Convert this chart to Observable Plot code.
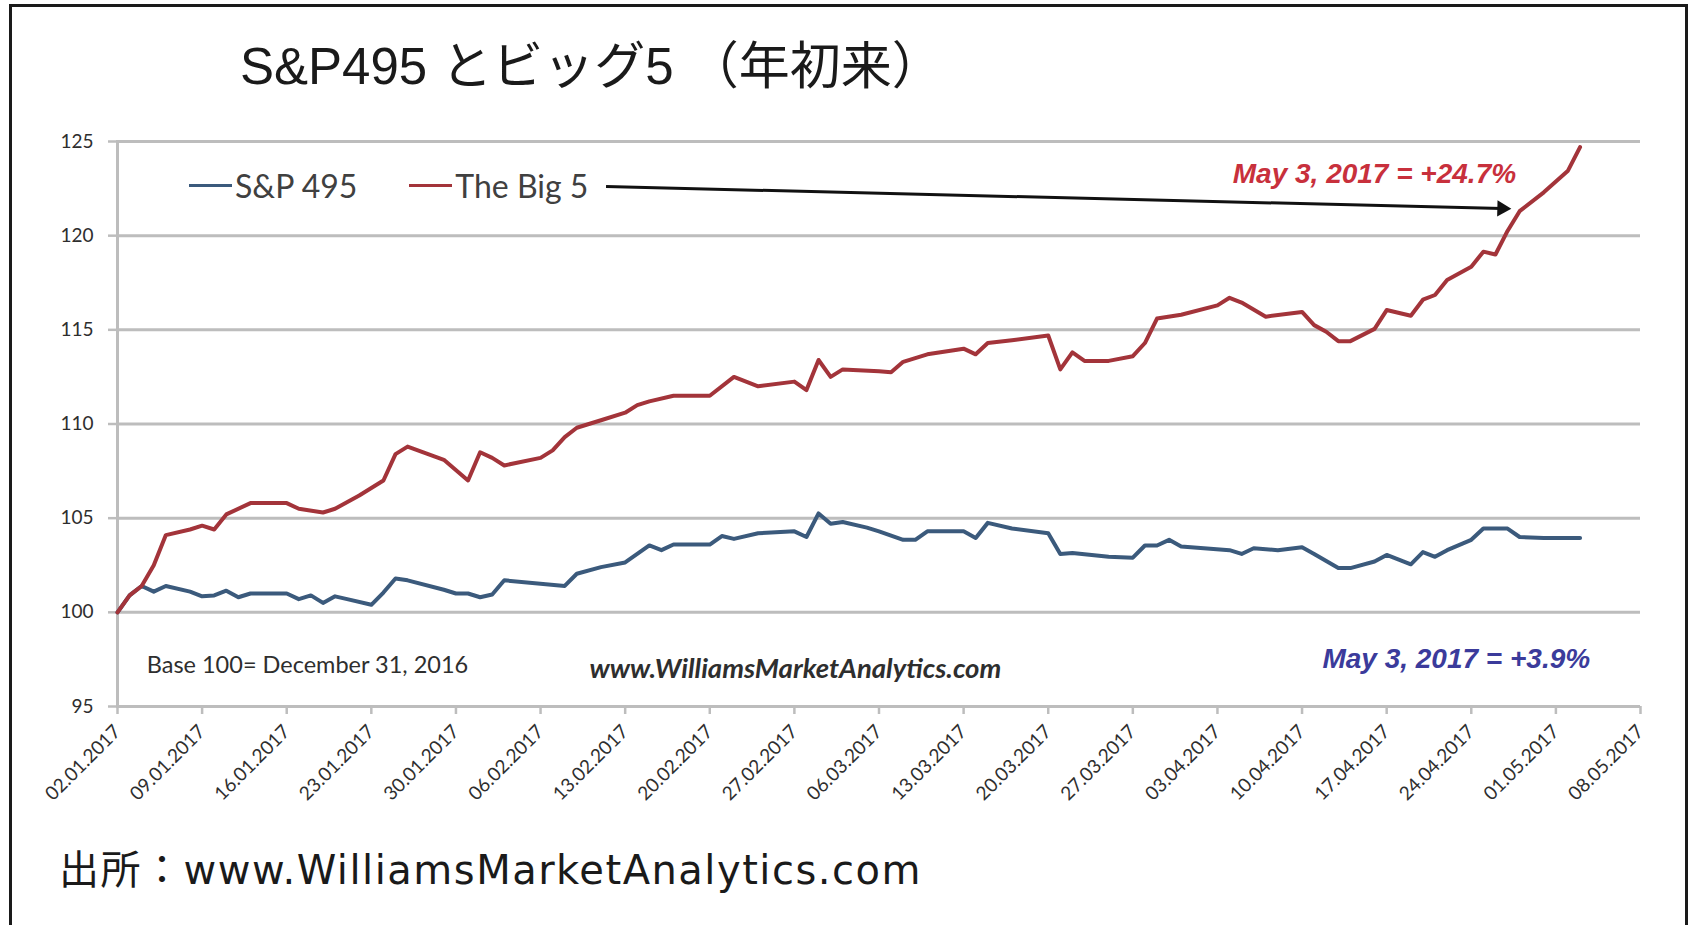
<!DOCTYPE html>
<html><head><meta charset="utf-8">
<script src="https://cdn.jsdelivr.net/npm/d3@7"></script>
<script src="https://cdn.jsdelivr.net/npm/@observablehq/plot@0.6"></script>
<style>
html,body{margin:0;padding:0;background:#fff;}
#page{position:relative;width:1694px;height:925px;overflow:hidden;background:#fff;}
#frame{position:absolute;left:9px;top:4px;width:1679px;height:1000px;border:3px solid #1a1a1a;box-sizing:border-box;}
#title{position:absolute;left:240px;top:41px;font-family:"Liberation Sans","Noto Sans CJK JP",sans-serif;font-size:51px;line-height:51px;color:#1a1a1a;white-space:pre;}
#footer{position:absolute;left:59px;top:850px;font-family:"DejaVu Sans","Noto Sans CJK JP",sans-serif;font-size:40px;line-height:40px;letter-spacing:1.5px;color:#1a1a1a;white-space:nowrap;}
#chart{position:absolute;left:53px;top:100px;}
#legend{position:absolute;left:189px;top:170px;display:flex;align-items:center;font-family:Lato,sans-serif;font-size:32px;line-height:31px;color:#404040;white-space:nowrap;}
#legend .item{display:flex;align-items:center;margin-right:52px;}
#legend .sw{display:inline-block;width:43px;height:3px;margin-right:3px;}
</style></head>
<body>
<div id="page">
  <div id="frame"></div>
  <div id="title">S&amp;P495 とビッグ5 （年初来）</div>
  <div id="chart"></div>
  <div id="legend"></div>
  <div id="footer">出所：www.WilliamsMarketAnalytics.com</div>
</div>
<script>
// ---- data ----
const bigDates = ["2017-01-02","2017-01-03","2017-01-04","2017-01-05","2017-01-06","2017-01-08","2017-01-09","2017-01-10","2017-01-11","2017-01-13",
"2017-01-16","2017-01-17","2017-01-19","2017-01-20","2017-01-22","2017-01-23","2017-01-24","2017-01-25","2017-01-26","2017-01-29",
"2017-01-31","2017-02-01","2017-02-02","2017-02-03","2017-02-06","2017-02-07","2017-02-08","2017-02-09","2017-02-11","2017-02-13",
"2017-02-14","2017-02-15","2017-02-17","2017-02-20","2017-02-22","2017-02-24","2017-02-27","2017-02-28","2017-03-01","2017-03-02",
"2017-03-03","2017-03-06","2017-03-07","2017-03-08","2017-03-10","2017-03-13","2017-03-14","2017-03-15","2017-03-17","2017-03-20",
"2017-03-21","2017-03-22","2017-03-23","2017-03-25","2017-03-27","2017-03-28","2017-03-29","2017-03-31","2017-04-03","2017-04-04",
"2017-04-05","2017-04-07","2017-04-10","2017-04-11","2017-04-12","2017-04-13","2017-04-14","2017-04-16","2017-04-17","2017-04-19",
"2017-04-20","2017-04-21","2017-04-22","2017-04-24","2017-04-25","2017-04-26","2017-04-27","2017-04-28","2017-04-30","2017-05-02",
"2017-05-03"];
const bigValues = [100.0,100.9,101.4,102.5,104.1,104.4,104.6,104.4,105.2,105.8,
105.8,105.5,105.3,105.5,106.2,106.6,107.0,108.4,108.8,108.1,
107.0,108.5,108.2,107.8,108.2,108.6,109.3,109.8,110.2,110.6,
111.0,111.2,111.5,111.5,112.5,112.0,112.25,111.8,113.4,112.5,
112.9,112.8,112.75,113.3,113.7,114.0,113.7,114.3,114.45,114.7,
112.9,113.8,113.35,113.35,113.6,114.3,115.6,115.8,116.3,116.7,
116.45,115.7,115.95,115.25,114.9,114.4,114.4,115.05,116.05,115.75,
116.6,116.85,117.65,118.35,119.15,119.0,120.25,121.3,122.3,123.45,
124.7];

const spDates = ["2017-01-02","2017-01-03","2017-01-04","2017-01-05","2017-01-06","2017-01-08","2017-01-09","2017-01-10","2017-01-11","2017-01-12",
"2017-01-13","2017-01-16","2017-01-17","2017-01-18","2017-01-19","2017-01-20","2017-01-21","2017-01-23","2017-01-24","2017-01-25",
"2017-01-26","2017-01-29","2017-01-30","2017-01-31","2017-02-01","2017-02-02","2017-02-03","2017-02-08","2017-02-09","2017-02-11",
"2017-02-13","2017-02-15","2017-02-16","2017-02-17","2017-02-20","2017-02-21","2017-02-22","2017-02-24","2017-02-27","2017-02-28",
"2017-03-01","2017-03-02","2017-03-03","2017-03-05","2017-03-06","2017-03-08","2017-03-09","2017-03-10","2017-03-13","2017-03-14",
"2017-03-15","2017-03-17","2017-03-20","2017-03-21","2017-03-22","2017-03-25","2017-03-27","2017-03-28","2017-03-29","2017-03-30",
"2017-03-31","2017-04-04","2017-04-05","2017-04-06","2017-04-08","2017-04-10","2017-04-11","2017-04-13","2017-04-14","2017-04-16",
"2017-04-17","2017-04-19","2017-04-20","2017-04-21","2017-04-22","2017-04-24","2017-04-25","2017-04-27","2017-04-28","2017-04-30",
"2017-05-03"];
const spValues = [100.0,100.9,101.4,101.1,101.4,101.1,100.85,100.9,101.15,100.8,
101.0,101.0,100.7,100.9,100.5,100.85,100.7,100.4,101.05,101.8,
101.7,101.2,101.0,101.0,100.8,100.95,101.7,101.4,102.05,102.4,
102.65,103.55,103.3,103.6,103.6,104.05,103.9,104.2,104.3,104.0,
105.25,104.7,104.8,104.5,104.3,103.85,103.85,104.3,104.3,103.95,
104.75,104.45,104.2,103.1,103.15,102.95,102.9,103.55,103.55,103.85,
103.5,103.3,103.1,103.4,103.3,103.45,103.1,102.35,102.35,102.7,
103.05,102.55,103.2,102.95,103.3,103.85,104.45,104.45,104.0,103.95,
103.95];

const seriesNames = ["S&P 495", "The Big 5"];
const seriesColors = ["#3b5a7c", "#a3343a"];
const yTicks = [95, 100, 105, 110, 115, 120, 125];
const xTicks = ["2017-01-02","2017-01-09","2017-01-16","2017-01-23","2017-01-30","2017-02-06","2017-02-13",
"2017-02-20","2017-02-27","2017-03-06","2017-03-13","2017-03-20","2017-03-27","2017-04-03","2017-04-10",
"2017-04-17","2017-04-24","2017-05-01","2017-05-08"];

// annotations (in data space)
const noteTexts = ["May 3, 2017 = +24.7%", "May 3, 2017 = +3.9%", "Base 100= December 31, 2016", "www.WilliamsMarketAnalytics.com"];
const noteDates = ["2017-04-27T17:00:00Z", "2017-05-03T20:00:00Z", "2017-01-04T10:00:00Z", "2017-02-10T01:00:00Z"];
const noteValues = [122.77, 97.03, 96.8, 96.5];
const arrowFrom = {date: "2017-02-11T10:00:00Z", value: 122.61};
const arrowTo = {date: "2017-04-26T13:00:00Z", value: 121.44};

// ---- build ----
const big = bigDates.map((d, i) => ({date: new Date(d), value: bigValues[i]}));
const sp = spDates.map((d, i) => ({date: new Date(d), value: spValues[i]}));
const notes = noteTexts.map((t, i) => ({text: t, date: new Date(noteDates[i]), value: noteValues[i]}));
const tickDates = xTicks.map(d => new Date(d));
const fmt = d3.utcFormat("%d.%m.%Y");
const arrowData = [{x1: new Date(arrowFrom.date), y1: arrowFrom.value, x2: new Date(arrowTo.date), y2: arrowTo.value}];

const chart = Plot.plot({
  width: 1592, height: 740,
  marginLeft: 64, marginRight: 5, marginTop: 41, marginBottom: 134,
  style: {fontFamily: "Lato, sans-serif", background: "transparent", overflow: "visible"},
  x: {type: "utc", domain: [new Date("2017-01-02"), new Date("2017-05-08")]},
  y: {domain: [95, 125]},
  marks: [
    Plot.gridY(yTicks, {stroke: "#bdbdbd", strokeOpacity: 1, strokeWidth: 3}),
    Plot.frame({anchor: "left", stroke: "#bdbdbd", strokeWidth: 3}),
    Plot.axisY(yTicks, {tickSize: 9, tickPadding: 15, stroke: "#bdbdbd", strokeWidth: 2.5, fill: "#2e2e2e", fontSize: 19, label: null}),
    Plot.axisX(tickDates, {tickSize: 8, tickPadding: 14, tickRotate: -45, tickFormat: fmt, stroke: "#bdbdbd", strokeWidth: 2.5, fill: "#2e2e2e", fontSize: 19, label: null}),
    Plot.line(sp, {x: "date", y: "value", stroke: seriesColors[0], strokeWidth: 4, strokeLinejoin: "round"}),
    Plot.line(big, {x: "date", y: "value", stroke: seriesColors[1], strokeWidth: 4, strokeLinejoin: "round"}),
    Plot.link(arrowData, {x1: "x1", y1: "y1", x2: "x2", y2: "y2", stroke: "#111", strokeWidth: 3}),
    Plot.dot(arrowData, {x: "x2", y: "y2", symbol: "triangle", r: 6, fill: "#111", stroke: "none", rotate: 91.4}),
    Plot.text([notes[0]], {x: "date", y: "value", text: "text", textAnchor: "end", lineAnchor: "bottom", fill: "#c8303c", fontSize: 28, fontWeight: "bold", fontStyle: "italic", fontFamily: "Liberation Sans, Arial, sans-serif"}),
    Plot.text([notes[1]], {x: "date", y: "value", text: "text", textAnchor: "end", lineAnchor: "bottom", fill: "#3b3b9b", fontSize: 28, fontWeight: "bold", fontStyle: "italic", fontFamily: "Liberation Sans, Arial, sans-serif"}),
    Plot.text([notes[2]], {x: "date", y: "value", text: "text", textAnchor: "start", lineAnchor: "bottom", fill: "#2e2e2e", fontSize: 23.5}),
    Plot.text([notes[3]], {x: "date", y: "value", text: "text", textAnchor: "start", lineAnchor: "bottom", fill: "#2e2e2e", fontSize: 27.5, fontWeight: "bold", fontStyle: "italic"})
  ]
});
document.getElementById("chart").appendChild(chart);

// legend
const legend = document.getElementById("legend");
seriesNames.forEach((name, i) => {
  const item = document.createElement("span");
  item.className = "item";
  const sw = document.createElement("span");
  sw.className = "sw";
  sw.style.background = seriesColors[i];
  item.appendChild(sw);
  item.appendChild(document.createTextNode(name));
  legend.appendChild(item);
});
</script>
</body></html>
